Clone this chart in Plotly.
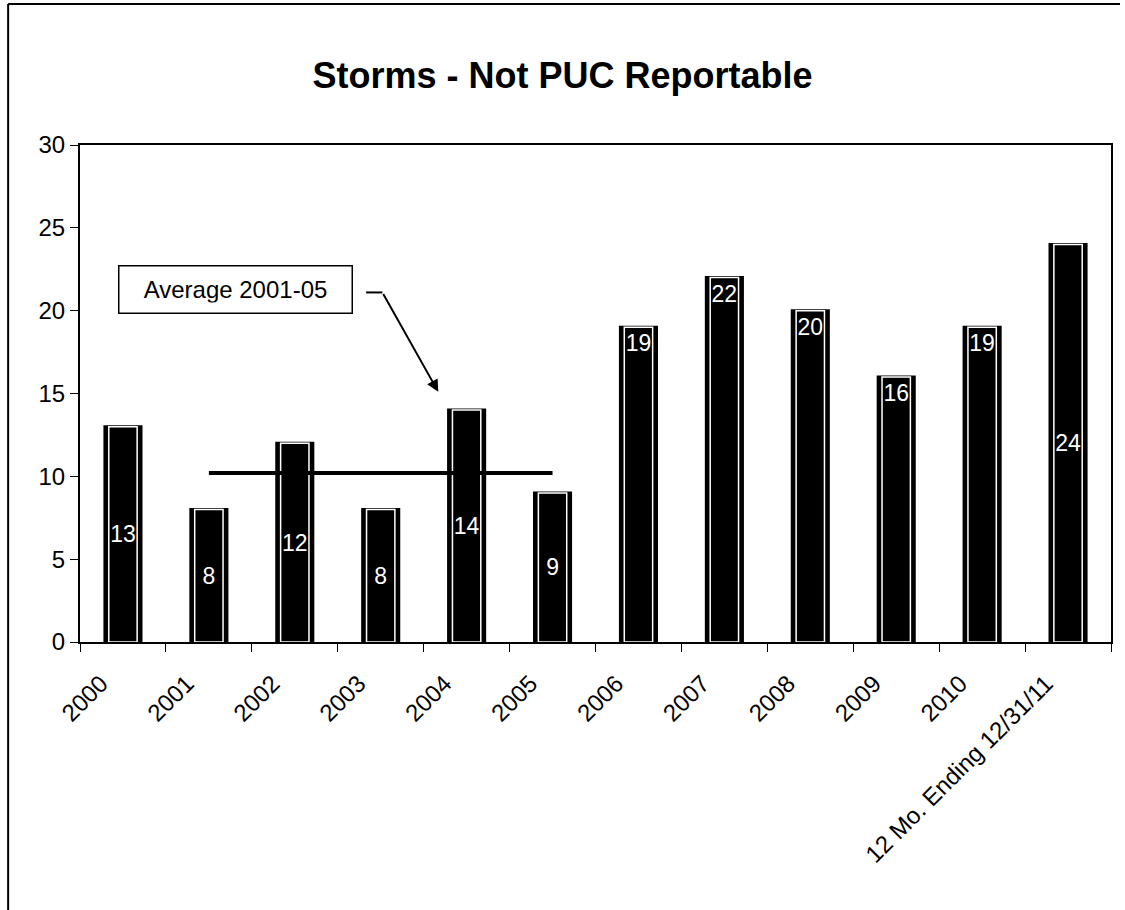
import plotly.graph_objects as go

categories = ["2000", "2001", "2002", "2003", "2004", "2005", "2006", "2007",
              "2008", "2009", "2010", "12 Mo. Ending 12/31/11"]
storms = [13, 8, 12, 8, 14, 9, 19, 22, 20, 16, 19, 24]
# where the value label sits inside each bar
label_pos = ["middle"] * 6 + ["top"] * 5 + ["middle"]
avg_years = ["2001", "2002", "2003", "2004", "2005"]
title_text = "Storms - Not PUC Reportable"
note_text = "Average 2001-05"

avg_vals = [storms[categories.index(y)] for y in avg_years]
avg = sum(avg_vals) / len(avg_vals)

FONT = "Liberation Sans, Arial, sans-serif"

mid_text = [str(v) if p == "middle" else "" for v, p in zip(storms, label_pos)]
top_text = [str(v) if p == "top" else "" for v, p in zip(storms, label_pos)]

fig = go.Figure()
# outer black bar
fig.add_trace(go.Bar(x=categories, y=storms, width=0.42,
                     marker=dict(color="black", line=dict(color="black", width=3)),
                     hoverinfo="skip", showlegend=False))
# inner bar with white outline
fig.add_trace(go.Bar(x=categories, y=storms, width=0.33,
                     marker=dict(color="black", line=dict(color="white", width=1.5)),
                     text=mid_text, textposition="inside", insidetextanchor="middle",
                     textfont=dict(color="white", size=23, family=FONT),
                     constraintext="none", showlegend=False))
# transparent bar carrying top labels
fig.add_trace(go.Bar(x=categories, y=storms, width=0.33,
                     marker=dict(color="rgba(0,0,0,0)", line=dict(width=0)),
                     text=top_text, textposition="inside", insidetextanchor="end",
                     textfont=dict(color="white", size=23, family=FONT),
                     constraintext="none", hoverinfo="skip", showlegend=False))
# average line
fig.add_trace(go.Scatter(x=[avg_years[0], avg_years[-1]], y=[avg, avg], mode="lines",
                         line=dict(color="black", width=4), showlegend=False,
                         hoverinfo="skip"))

fig.update_layout(
    barmode="overlay",
    width=1125, height=910,
    margin=dict(l=80, r=12, t=145, b=268),
    paper_bgcolor="white", plot_bgcolor="white",
    font=dict(family=FONT, color="black", size=23),
    title=dict(text="<b>" + title_text + "</b>", x=0.5, xref="container", xanchor="center",
               y=1 - 75 / 910, yanchor="middle",
               font=dict(size=36, family=FONT, color="black")),
    xaxis=dict(type="category", showline=True, linecolor="black", linewidth=2,
               mirror=True, ticks="outside", tickson="boundaries", ticklen=8,
               tickcolor="black", tickangle=-45, tickfont=dict(size=24),
               ticklabelstandoff=16, ticklabelshift=-22,
               showgrid=False, range=[-0.5, len(categories) - 0.5]),
    yaxis=dict(range=[0, 30], dtick=5, showline=True, linecolor="black", linewidth=2,
               mirror=True, ticks="outside", ticklen=8, tickcolor="black",
               tickfont=dict(size=24), showgrid=False, zeroline=False),
    annotations=[
        dict(x=1.314, y=21.3, xref="x", yref="y", text=note_text, showarrow=False,
             font=dict(size=24, family=FONT, color="black"),
             bordercolor="black", borderwidth=1.5, borderpad=10,
             bgcolor="white", width=212, height=26),
        dict(x=3.67, y=15.1, xref="x", yref="y", ax=3.02, ay=21.1,
             axref="x", ayref="y", text="", showarrow=True, arrowhead=2,
             arrowsize=1.2, arrowwidth=2, arrowcolor="black"),
    ],
    shapes=[
        dict(type="line", xref="x", yref="y", x0=2.83, x1=3.02, y0=21.1, y1=21.1,
             line=dict(color="black", width=2)),
        # outer chart border (left and top)
        dict(type="line", xref="paper", yref="paper", x0=-72 / 1033, x1=-72 / 1033,
             y0=-0.56, y1=638 / 497, line=dict(color="black", width=2)),
        dict(type="line", xref="paper", yref="paper", x0=-72 / 1033, x1=1042 / 1033,
             y0=638 / 497, y1=638 / 497, line=dict(color="black", width=2)),
    ],
)

fig.write_html("out.html")
